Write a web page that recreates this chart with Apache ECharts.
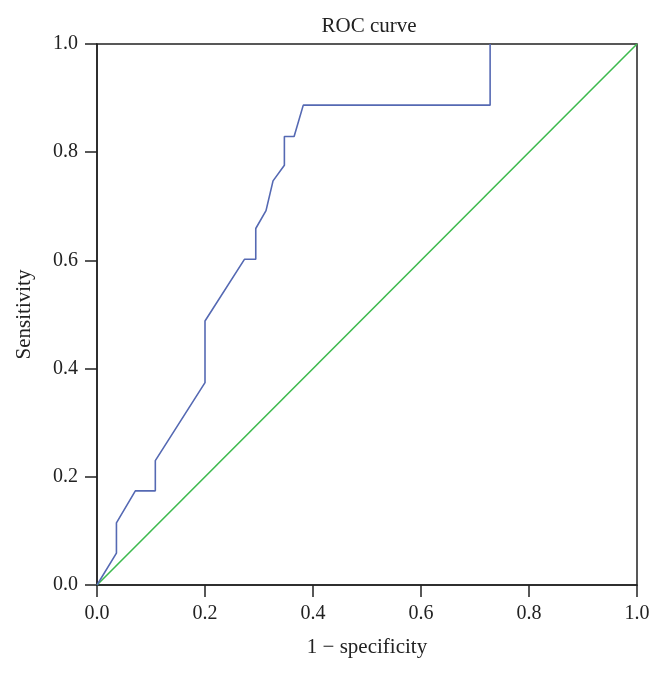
<!DOCTYPE html>
<html>
<head>
<meta charset="utf-8">
<script src="https://cdn.jsdelivr.net/npm/echarts@6/dist/echarts.min.js"></script>
<style>
  html, body { margin: 0; padding: 0; background: #fff; }
  #main { width: 664px; height: 673px; }
</style>
</head>
<body>
<div id="main"></div>
<script type="text/javascript">
    // ROC curve points (1 - specificity, sensitivity)
    var fpr = [0, 0.036, 0.036, 0.071, 0.108, 0.108, 0.2, 0.2, 0.273, 0.294, 0.294, 0.313, 0.326, 0.347, 0.347, 0.365, 0.382, 0.728, 0.728];
    var tpr = [0, 0.059, 0.115, 0.174, 0.174, 0.23, 0.374, 0.488, 0.602, 0.602, 0.659, 0.692, 0.747, 0.776, 0.829, 0.829, 0.887, 0.887, 1.0];
    // reference line
    var refX = [0, 1];
    var refY = [0, 1];

    function pairs(xs, ys) {
        var out = [];
        for (var i = 0; i < xs.length; i++) out.push([xs[i], ys[i]]);
        return out;
    }

    var serif = 'Liberation Serif';
    var ink = '#222';
    var myChart = echarts.init(document.getElementById('main'));
    var option = {
        backgroundColor: '#fff',
        animation: false,
        title: {
            text: 'ROC curve',
            left: 364,
            textAlign: 'center',
            top: 11,
            textStyle: { color: ink, fontFamily: serif, fontSize: 21, fontWeight: 'normal' }
        },
        grid: {
            left: 97, right: 27, top: 44, bottom: 88,
            show: true, borderColor: ink, borderWidth: 1.5
        },
        xAxis: {
            type: 'value', min: 0, max: 1, interval: 0.2,
            name: '1 \u2212 specificity',
            nameLocation: 'middle', nameGap: 52,
            nameTextStyle: { color: ink, fontFamily: serif, fontSize: 21 },
            axisLine: { show: true, lineStyle: { color: ink, width: 1.5 } },
            axisTick: { show: true, inside: false, length: 12, lineStyle: { color: ink, width: 1.5 } },
            axisLabel: {
                color: ink, fontFamily: serif, fontSize: 20, margin: 19,
                formatter: function (v) { return v.toFixed(1); }
            },
            splitLine: { show: false }
        },
        yAxis: {
            type: 'value', min: 0, max: 1, interval: 0.2,
            name: 'Sensitivity',
            nameLocation: 'middle', nameGap: 62,
            nameTextStyle: { color: ink, fontFamily: serif, fontSize: 21 },
            axisLine: { show: true, lineStyle: { color: ink, width: 1.5 } },
            axisTick: { show: true, inside: false, length: 12, lineStyle: { color: ink, width: 1.5 } },
            axisLabel: {
                color: ink, fontFamily: serif, fontSize: 20, margin: 19,
                formatter: function (v) { return v.toFixed(1); }
            },
            splitLine: { show: false }
        },
        series: [
            {
                name: 'ROC',
                type: 'line',
                data: pairs(fpr, tpr),
                showSymbol: false,
                lineStyle: { color: '#5569b3', width: 1.6 },
                z: 3
            },
            {
                name: 'Reference',
                type: 'line',
                data: pairs(refX, refY),
                showSymbol: false,
                lineStyle: { color: '#3dba4e', width: 1.6 },
                z: 2
            }
        ]
    };
    myChart.setOption(option, true);
</script>
</body>
</html>
